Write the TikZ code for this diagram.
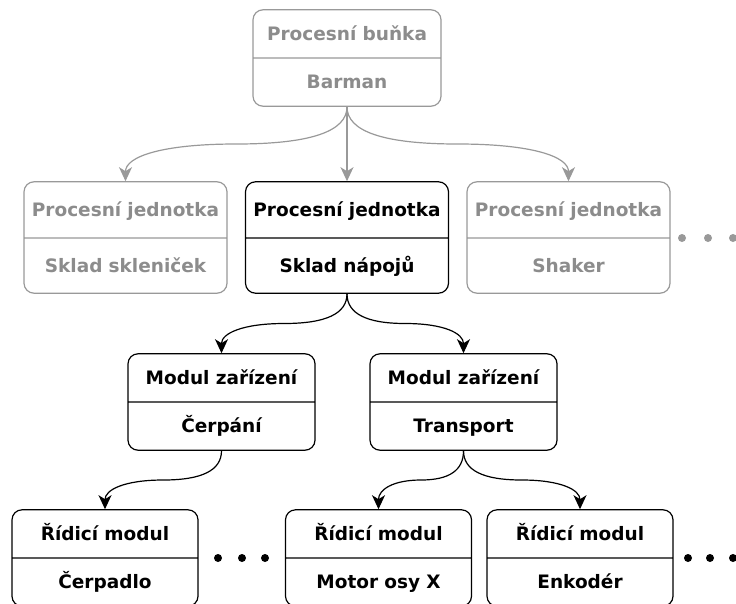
\documentclass[tikz,border=0pt]{standalone}
\usepackage{fontspec}
\setmainfont{DejaVu Sans}
\usetikzlibrary{shapes.multipart,arrows.meta,calc}

\definecolor{paleline}{HTML}{999999}
\definecolor{paletext}{HTML}{8C8C8C}

% one compartment of a box: fixed height, text centred on the cap height
\newcommand{\partline}[2]{\rule[-\dimexpr#1/2-6.7pt\relax]{0pt}{#1}#2}

\tikzset{
  unit/.style={rectangle split, rectangle split parts=2, draw, line width=1.2pt,
    rounded corners=10pt, inner xsep=0pt, inner ysep=0pt, align=center,
    fill=white, font=\fontsize{18.5}{22}\selectfont\bfseries},
  pale/.style={draw=paleline, text=paletext},
  link/.style={line width=1.2pt, -{Stealth[length=14pt,width=13pt,inset=4pt]}},
  palelink/.style={link, color=paleline},
  % vertical start, flat middle, vertical end (two quadratic halves)
  curvy/.style={to path={
    .. controls ($(\tikztostart)!0.3333!(\tikztostart|-\tikztotarget)$)
       and ($(\tikztostart)!0.5!(\tikztotarget) + 0.3333*(\tikztostart) - 0.3333*(\tikztotarget|-\tikztostart)$)
    .. ($(\tikztostart)!0.5!(\tikztotarget)$)
    .. controls ($(\tikztostart)!0.5!(\tikztotarget) - 0.3333*(\tikztostart) + 0.3333*(\tikztotarget|-\tikztostart)$)
       and ($(\tikztotarget)!0.3333!(\tikztotarget|-\tikztostart)$)
    .. (\tikztotarget) \tikztonodes}},
}

\begin{document}
\begin{tikzpicture}[x=1pt,y=-1pt]
\useasboundingbox (0,0) rectangle (736,603);

% process cell
\node[unit, pale, text width=188pt] (cell) at (347,58)
  {\partline{47pt}{Procesní buňka}\nodepart{two}\partline{47pt}{Barman}};

% process units
\node[unit, pale, text width=203pt] (pj1) at (125.5,237.5)
  {\partline{55pt}{Procesní jednotka}\nodepart{two}\partline{54pt}{Sklad skleniček}};
\node[unit, text width=203pt] (pj2) at (347,237.5)
  {\partline{55pt}{Procesní jednotka}\nodepart{two}\partline{54pt}{Sklad nápojů}};
\node[unit, pale, text width=203pt] (pj3) at (568.5,237.5)
  {\partline{55pt}{Procesní jednotka}\nodepart{two}\partline{54pt}{Shaker}};

% equipment modules
\node[unit, text width=187pt] (md1) at (221.5,402)
  {\partline{47pt}{Modul zařízení}\nodepart{two}\partline{47pt}{Čerpání}};
\node[unit, text width=187pt] (md2) at (463.5,402)
  {\partline{47pt}{Modul zařízení}\nodepart{two}\partline{47pt}{Transport}};

% control modules
\node[unit, text width=186pt] (rm1) at (105,558)
  {\partline{47pt}{Řídicí modul}\nodepart{two}\partline{47pt}{Čerpadlo}};
\node[unit, text width=186pt] (rm2) at (378.5,558)
  {\partline{47pt}{Řídicí modul}\nodepart{two}\partline{47pt}{Motor osy X}};
\node[unit, text width=186pt] (rm3) at (580,558)
  {\partline{47pt}{Řídicí modul}\nodepart{two}\partline{47pt}{Enkodér}};

% hierarchy links
\draw[palelink] (cell.south) to[curvy] (pj1.north);
\draw[palelink] (cell.south) -- (pj2.north);
\draw[palelink] (cell.south) to[curvy] (pj3.north);
\draw[link] (pj2.south) to[curvy] (md1.north);
\draw[link] (pj2.south) to[curvy] (md2.north);
\draw[link] (md1.south) to[curvy] (rm1.north);
\draw[link] (md2.south) to[curvy] (rm2.north);
\draw[link] (md2.south) to[curvy] (rm3.north);

% ellipses marking further items
\foreach \x in {682,708,733} \fill[paleline] (\x,238) circle[radius=4pt];
\foreach \x in {218,242,265} \fill (\x,558) circle[radius=4pt];
\foreach \x in {688,710,733} \fill (\x,558) circle[radius=4pt];
\end{tikzpicture}
\end{document}
